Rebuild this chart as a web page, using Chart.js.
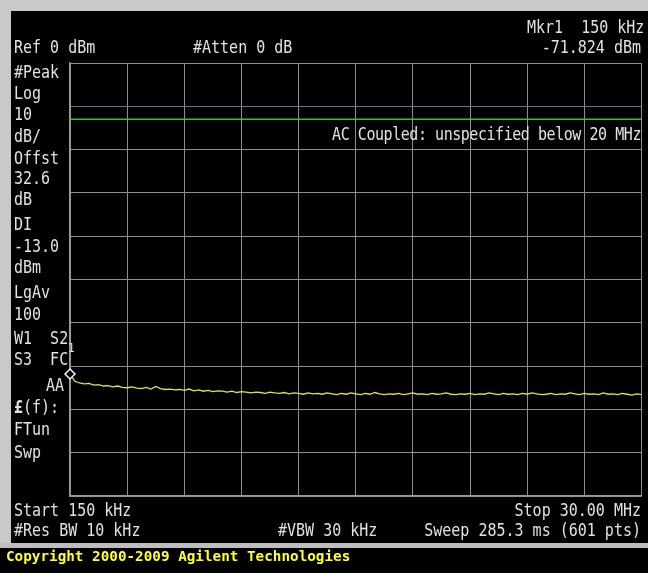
<!DOCTYPE html>
<html>
<head>
<meta charset="utf-8">
<script src="https://cdn.jsdelivr.net/npm/chart.js@4.4.0/dist/chart.umd.min.js"></script>
<style>
  html, body { margin: 0; padding: 0; }
  body { width: 648px; height: 573px; overflow: hidden; background: #c9c9c9; position: relative;
         font-family: "DejaVu Sans Mono", monospace; }
  #panel { position: absolute; left: 11px; top: 11px; width: 637px; height: 532px; background: #000; }
  #sep { position: absolute; left: 0; top: 543px; width: 648px; height: 5px; background: #bdbdbd; }
  #copy { position: absolute; left: 0; top: 548px; width: 648px; height: 25px; background: #000; }
  canvas { position: absolute; left: 0; top: 0; }
  .t { position: absolute; color: #e2e2e2; font-size: 15px; line-height: 18px; white-space: pre;
       transform: scaleY(1.12); transform-origin: 50% 50%; }
  .r { text-align: right; }
  #cp { position: absolute; left: 6px; top: 547px; color: #ffff2a; font-weight: bold; font-size: 14.3px;
        line-height: 18px; font-family: "DejaVu Sans Mono", monospace; white-space: pre; }
</style>
</head>
<body>
<div id="panel"></div>
<div id="sep"></div>
<div id="copy"></div>
<canvas id="c" width="648" height="573"></canvas>

<div class="t" style="left:527px;top:18px;">Mkr1  150 kHz</div>
<div class="t" style="left:14px;top:38px;">Ref 0 dBm</div>
<div class="t" style="left:193px;top:38px;">#Atten 0 dB</div>
<div class="t r" style="right:7px;top:38px;">-71.824 dBm</div>

<div class="t" style="left:14px;top:63px;">#Peak</div>
<div class="t" style="left:14px;top:84px;">Log</div>
<div class="t" style="left:14px;top:105px;">10</div>
<div class="t" style="left:14px;top:127px;">dB/</div>
<div class="t" style="left:14px;top:149px;">Offst</div>
<div class="t" style="left:14px;top:169px;">32.6</div>
<div class="t" style="left:14px;top:190px;">dB</div>
<div class="t" style="left:14px;top:215px;">DI</div>
<div class="t" style="left:14px;top:237px;">-13.0</div>
<div class="t" style="left:14px;top:258px;">dBm</div>
<div class="t" style="left:14px;top:283px;">LgAv</div>
<div class="t" style="left:14px;top:305px;">100</div>
<div class="t" style="left:14px;top:329px;">W1  S2</div>
<div class="t" style="left:14px;top:350px;">S3  FC</div>
<div class="t" style="left:68px;top:340px;font-size:11px;">1</div>
<div class="t" style="left:46px;top:376px;">AA</div>
<div class="t" style="left:14px;top:398px;"><b>£</b>(f):</div>
<div class="t" style="left:14px;top:420px;">FTun</div>
<div class="t" style="left:14px;top:443px;">Swp</div>

<div class="t r" style="right:7px;top:125px;letter-spacing:-0.45px;">AC Coupled: unspecified below 20 MHz</div>

<div class="t" style="left:14px;top:501px;">Start 150 kHz</div>
<div class="t r" style="right:7px;top:501px;">Stop 30.00 MHz</div>
<div class="t" style="left:14px;top:521px;">#Res BW 10 kHz</div>
<div class="t" style="left:278px;top:521px;">#VBW 30 kHz</div>
<div class="t r" style="right:7px;top:521px;">Sweep 285.3 ms (601 pts)</div>

<div id="cp">Copyright 2000-2009 Agilent Technologies</div>

<script>
// ---- data ----
const startMHz = 0.15;
const stopMHz = 30.00;
const refLevelDbm = 0;
const bottomDbm = -100;
const dbPerDiv = 10;
const xDivisions = 10;
const displayLineDbm = -13.0;
const markerFreqMHz = 0.15;
const markerDbm = -71.824;
const traceDbm = [
  -71.8, -73.5, -73.9, -74.1, -74.0, -74.4, -74.3, -74.6, -74.5, -74.8,
  -74.6, -74.9, -75.0, -74.8, -75.1, -75.2, -74.9, -75.3, -74.7, -75.2,
  -75.4, -75.3, -75.5, -75.4, -75.6, -75.3, -75.7, -75.5, -75.8, -75.6,
  -75.9, -75.7, -75.8, -76.0, -75.8, -76.1, -75.9, -76.0, -76.2, -76.0,
  -76.1, -76.3, -76.0, -76.2, -76.3, -76.1, -76.4, -76.2, -76.3, -76.5,
  -76.2, -76.4, -76.3, -76.5, -76.2, -76.4, -76.6, -76.3, -76.5, -76.2,
  -76.4, -76.6, -76.3, -76.5, -76.1, -76.4, -76.6, -76.4, -76.5, -76.3,
  -76.6, -76.4, -76.2, -76.5, -76.4, -76.6, -76.3, -76.5, -76.4, -76.2,
  -76.5, -76.6, -76.4, -76.5, -76.3, -76.6, -76.4, -76.5, -76.2, -76.4,
  -76.6, -76.3, -76.5, -76.4, -76.6, -76.3, -76.5, -76.2, -76.4, -76.6,
  -76.5, -76.3, -76.6, -76.4, -76.5, -76.2, -76.4, -76.6, -76.3, -76.5,
  -76.4, -76.6, -76.2, -76.5, -76.4, -76.6, -76.3, -76.5, -76.7, -76.4,
  -76.6
];

// sweep points are evenly spaced between start and stop
const stepMHz = (stopMHz - startMHz) / (traceDbm.length - 1);
const tracePts = traceDbm.map((v, i) => ({ x: startMHz + i * stepMHz, y: v }));
const divMHz = (stopMHz - startMHz) / xDivisions;

new Chart(document.getElementById('c'), {
  type: 'line',
  data: {
    datasets: [
      { data: [{ x: markerFreqMHz, y: markerDbm }], showLine: false, clip: false,
        pointStyle: 'rectRot', pointRadius: 5, pointBorderColor: '#f4f4f4',
        pointBackgroundColor: '#000', pointBorderWidth: 1.5, order: 0 },
      { data: tracePts, borderColor: '#e2e24a', borderWidth: 1.3, pointRadius: 0,
        tension: 0, order: 1 },
      { data: [{ x: startMHz, y: displayLineDbm }, { x: stopMHz, y: displayLineDbm }],
        borderColor: '#2fc43a', borderWidth: 1.5, pointRadius: 0, order: 2 }
    ]
  },
  options: {
    responsive: false, animation: false, devicePixelRatio: 1,
    layout: { padding: { left: 70, top: 63, right: 3, bottom: 77 } },
    plugins: { legend: { display: false }, tooltip: { enabled: false } },
    scales: {
      x: {
        type: 'linear', min: startMHz, max: stopMHz,
        afterBuildTicks: (s) => {
          s.ticks = Array.from({ length: xDivisions + 1 }, (_, i) => ({ value: startMHz + i * divMHz }));
        },
        ticks: { display: false },
        grid: { color: '#8e8e8e', lineWidth: 1, drawTicks: false },
        border: { color: '#9a9a9a', width: 1.5 }
      },
      y: {
        min: bottomDbm, max: refLevelDbm,
        ticks: { display: false, stepSize: dbPerDiv },
        grid: { color: (ctx) => (ctx.tick && ctx.tick.value === -10 ? '#6e6e9a' : '#8e8e8e'),
                lineWidth: 1, drawTicks: false },
        border: { color: '#9a9a9a', width: 1.5 }
      }
    }
  }
});
</script>
</body>
</html>
